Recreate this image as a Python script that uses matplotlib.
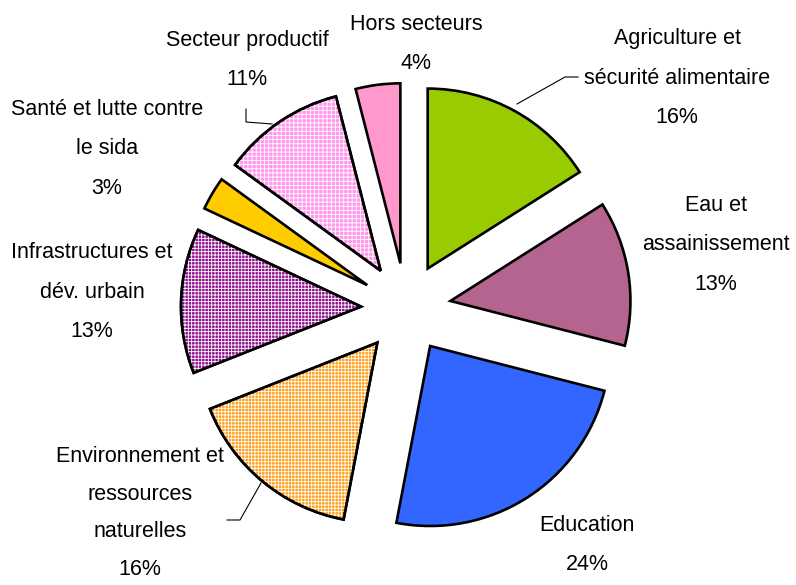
import matplotlib
matplotlib.use("Agg")
import matplotlib.pyplot as plt
from matplotlib.patches import Wedge

plt.rcParams['font.family'] = ['Liberation Sans', 'DejaVu Sans']
plt.rcParams['hatch.linewidth'] = 0.6

categories = ["Agriculture et\nsécurité alimentaire", "Eau et\nassainissement", "Education",
              "Environnement et\nressources\nnaturelles", "Infrastructures et\ndév. urbain",
              "Santé et lutte contre\nle sida", "Secteur productif", "Hors secteurs"]
values = [16, 13, 24, 16, 13, 3, 11, 4]
colors = ["#99CC00", "#B4648E", "#3366FF", "#FF9F1A", "#8E108E", "#FFCC00", "#FF99EE", "#FF99CC"]
hatches = [None, None, None, "+++++", "+++++", None, "++++", None]

W, H = 796, 585
fig = plt.figure(figsize=(W / 100, H / 100), dpi=100)
ax = fig.add_axes([0, 0, 1, 1])

def py(y):
    return H - y

center = (406, py(308))
radius = 180
wedges, _ = ax.pie(values, explode=[45] * len(values), colors=colors, startangle=90,
                   counterclock=False, radius=radius, center=center,
                   wedgeprops=dict(edgecolor="black", linewidth=1.9), frame=True)

for w, h in zip(wedges, hatches):
    if h:
        hw = Wedge(w.center, w.r, w.theta1, w.theta2, fill=False, edgecolor="white",
                   linewidth=0, hatch=h, zorder=1.5)
        ax.add_patch(hw)
        ow = Wedge(w.center, w.r, w.theta1, w.theta2, fill=False, edgecolor="black",
                   linewidth=1.9, zorder=2)
        ax.add_patch(ow)

label_pos = [(677, 78), (716, 245), (587, 545), (140, 513), (92, 292), (107, 149), (247, 60), (416, 44)]
spacing = [2.15, 2.15, 2.15, 2.05, 2.15, 2.15, 2.15, 2.15]
for cat, v, (x, y), ls in zip(categories, values, label_pos, spacing):
    ax.text(x, py(y), f"{cat}\n{v}%", ha="center", va="center", fontsize=15.5,
            linespacing=ls, color="black")

# leader lines
ax.plot([578, 565, 517], [py(77), py(77), py(104)], color="black", lw=0.8)
ax.plot([227, 240, 261], [py(520), py(520), py(483)], color="black", lw=0.8)
ax.plot([246, 246, 272], [py(109), py(122), py(124)], color="black", lw=0.8)

ax.set_xlim(0, W)
ax.set_ylim(0, H)
ax.set_aspect("equal")
ax.axis("off")
fig.savefig("out.png", dpi=100)
